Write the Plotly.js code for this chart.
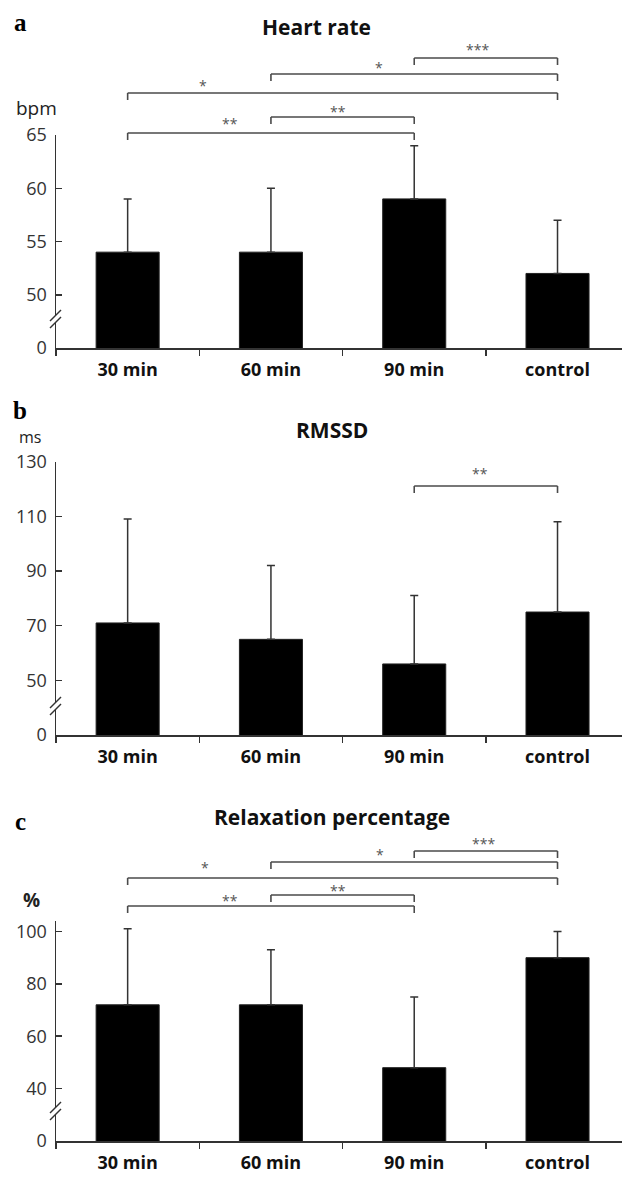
<!DOCTYPE html>
<html>
<head>
<meta charset="utf-8">
<script src="https://cdn.plot.ly/plotly-3.0.1.min.js"></script>
<style>html,body{margin:0;padding:0;background:#fff;}#chart{width:622px;height:1177px;}</style>
</head>
<body>
<div id="chart"></div>
<script>
// ---- data ----
const categories = ['30 min', '60 min', '90 min', 'control'];

const hrMean = [54, 54, 59, 52];
const hrSD = [5, 6, 5, 5];
const hrTickVals = [45, 50, 55, 60, 65];
const hrTickText = ['0', '50', '55', '60', '65'];

const rmssdMean = [71, 65, 56, 75];
const rmssdSD = [38, 27, 25, 33];
const rmssdTickVals = [30, 50, 70, 90, 110, 130];
const rmssdTickText = ['0', '50', '70', '90', '110', '130'];

const relaxMean = [72, 72, 48, 90];
const relaxSD = [29, 21, 27, 10];
const relaxTickVals = [20, 40, 60, 80, 100];
const relaxTickText = ['0', '40', '60', '80', '100'];

// significance comparisons: [from index, to index, label]
const hrSig = [[2, 3, '***'], [1, 3, '*'], [0, 3, '*'], [1, 2, '**'], [0, 2, '**']];
const rmssdSig = [[2, 3, '**']];
const relaxSig = [[2, 3, '***'], [1, 3, '*'], [0, 3, '*'], [1, 2, '**'], [0, 2, '**']];

// ---- layout helpers ----
const W = 622, H = 1177;
const py = p => 1 - p / H;
const px = p => p / W;
const FONT = 'Open Sans, Noto Sans, sans-serif';
const AX = '#333';

// panel geometry in pixels
const panels = [
  {bottom: 348, top: 135, range: [45, 65], tv: hrTickVals, tt: hrTickText, brk: 319,
   mean: hrMean, sd: hrSD, sig: hrSig,
   lines: [58, 74, 93, 117, 133], stars: [[477, 47], [379, 65], [203, 82], [338, 108], [230, 121]],
   title: 'Heart rate', titlePos: [316, 27], letter: 'a', letterPos: [20, 22], unit: 'bpm', unitPos: [36, 108], unitSize: 19, unitBold: false},
  {bottom: 735, top: 461.7, range: [30, 130], tv: rmssdTickVals, tt: rmssdTickText, brk: 706,
   mean: rmssdMean, sd: rmssdSD, sig: rmssdSig,
   lines: [486], stars: [[480, 471]],
   title: 'RMSSD', titlePos: [332, 430], letter: 'b', letterPos: [20, 410], unit: 'ms', unitPos: [30, 437], unitSize: 16, unitBold: false},
  {bottom: 1141, top: 921, range: [20, 104], tv: relaxTickVals, tt: relaxTickText, brk: 1111,
   mean: relaxMean, sd: relaxSD, sig: relaxSig,
   lines: [851, 862, 878, 895, 906], stars: [[483, 840], [380, 851], [205, 864], [338, 887], [230, 897]],
   title: 'Relaxation percentage', titlePos: [332, 817], letter: 'c', letterPos: [20, 821], unit: '%', unitPos: [31, 900], unitSize: 19, unitBold: true}
];

const data = [];
const layout = {
  width: W, height: H,
  margin: {l: 0, r: 0, t: 0, b: 0, pad: 0},
  paper_bgcolor: '#fff', plot_bgcolor: '#fff',
  showlegend: false, hovermode: false,
  annotations: [], shapes: []
};

panels.forEach((p, i) => {
  const n = i === 0 ? '' : String(i + 1);
  const xa = 'x' + n, ya = 'y' + n;
  data.push({
    type: 'bar', x: categories, y: p.mean, xaxis: xa, yaxis: ya,
    width: 0.44,
    marker: {color: '#000', line: {color: '#222', width: 1}},
    error_y: {type: 'data', symmetric: false, array: p.sd, arrayminus: p.sd.map(() => 0),
              color: '#333', thickness: 1.5, width: 4}
  });
  layout['xaxis' + n] = {
    domain: [px(56), 1], anchor: ya, type: 'category', range: [-0.5, 3.45],
    showline: true, linecolor: AX, linewidth: 1.5,
    ticks: 'outside', tickson: 'boundaries', ticklen: 6, tickwidth: 1.5, tickcolor: AX,
    showgrid: false, zeroline: false, fixedrange: true,
    ticklabelstandoff: 5,
    tickfont: {family: FONT, size: 18, color: '#111', weight: 'bold'}
  };
  layout['yaxis' + n] = {
    domain: [py(p.bottom), py(p.top)], anchor: xa, range: p.range,
    tickmode: 'array', tickvals: p.tv, ticktext: p.tt,
    showline: true, linecolor: AX, linewidth: 1.5,
    ticks: 'inside', ticklen: 6, tickwidth: 1.5, tickcolor: AX,
    showgrid: false, zeroline: false, fixedrange: true,
    ticklabelstandoff: 4,
    tickfont: {family: FONT, size: 18, color: '#333'}
  };

  // axis break marks
  const b = p.brk;
  layout.shapes.push({type: 'rect', xref: 'paper', yref: 'paper', layer: 'above',
    x0: px(52), x1: px(60), y0: py(b + 3), y1: py(b - 3), fillcolor: '#fff', line: {width: 0}});
  layout.shapes.push({type: 'line', xref: 'paper', yref: 'paper', layer: 'above',
    x0: px(50), x1: px(61), y0: py(b + 2), y1: py(b - 9), line: {color: AX, width: 1.5}});
  layout.shapes.push({type: 'line', xref: 'paper', yref: 'paper', layer: 'above',
    x0: px(50), x1: px(61), y0: py(b + 9), y1: py(b - 2), line: {color: AX, width: 1.5}});

  // significance brackets
  p.sig.forEach((s, k) => {
    const yl = p.lines[k];
    const st = {color: '#4a4a4a', width: 1.6};
    layout.shapes.push({type: 'line', xref: xa, yref: 'paper', x0: s[0], x1: s[1], y0: py(yl), y1: py(yl), line: st});
    layout.shapes.push({type: 'line', xref: xa, yref: 'paper', x0: s[0], x1: s[0], y0: py(yl), y1: py(yl + 7), line: st});
    layout.shapes.push({type: 'line', xref: xa, yref: 'paper', x0: s[1], x1: s[1], y0: py(yl), y1: py(yl + 7), line: st});
    layout.annotations.push({xref: 'paper', yref: 'paper', x: px(p.stars[k][0]), y: py(p.stars[k][1] + 3),
      text: s[2], showarrow: false, xanchor: 'center', yanchor: 'middle',
      font: {family: FONT, size: 14, color: '#555'}});
  });

  // titles, panel letters, units
  layout.annotations.push({xref: 'paper', yref: 'paper', x: px(p.titlePos[0]), y: py(p.titlePos[1]),
    text: p.title, showarrow: false, xanchor: 'center', yanchor: 'middle',
    font: {family: FONT, size: 21, color: '#111', weight: 'bold'}});
  layout.annotations.push({xref: 'paper', yref: 'paper', x: px(p.letterPos[0]), y: py(p.letterPos[1]),
    text: p.letter, showarrow: false, xanchor: 'center', yanchor: 'middle',
    font: {family: 'Liberation Serif, serif', size: 25, color: '#000', weight: 'bold'}});
  layout.annotations.push({xref: 'paper', yref: 'paper', x: px(p.unitPos[0]), y: py(p.unitPos[1]),
    text: p.unit, showarrow: false, xanchor: 'center', yanchor: 'middle',
    font: {family: FONT, size: p.unitSize, color: '#222', weight: p.unitBold ? 'bold' : 'normal'}});
});

Plotly.newPlot('chart', data, layout, {staticPlot: true, displayModeBar: false});
</script>
</body>
</html>
